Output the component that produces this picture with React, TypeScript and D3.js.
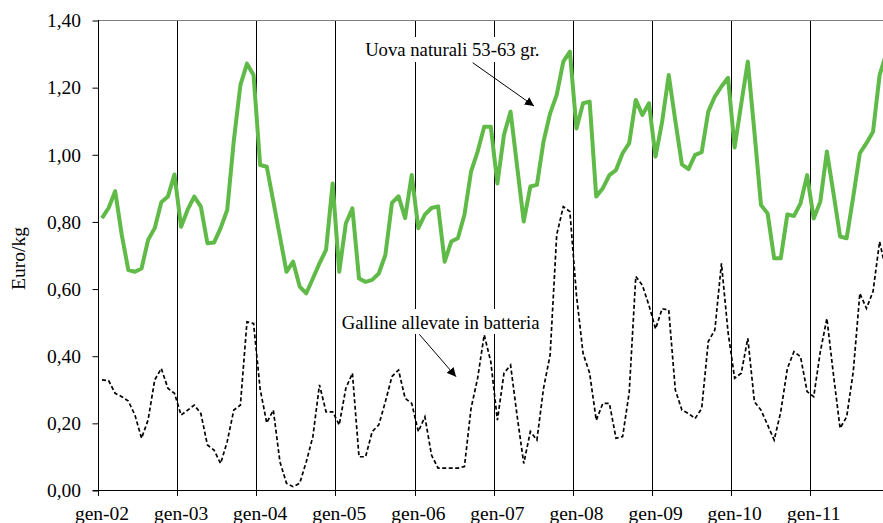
import React, { useEffect, useRef } from "react";
import * as d3 from "d3";

const years = ["02", "03", "04", "05", "06", "07", "08", "09", "10", "11"];
const monthNames = ["gen", "feb", "mar", "apr", "mag", "giu", "lug", "ago", "set", "ott", "nov", "dic"];
const categories = years.flatMap((yy) => monthNames.map((m) => `${m}-${yy}`));
const tickLabels = years.map((yy) => `gen-${yy}`);
const yTicks = [0, 0.2, 0.4, 0.6, 0.8, 1.0, 1.2, 1.4];

// Uova naturali 53-63 gr. (Euro/kg)
const uova = [
  0.81, 0.84, 0.89, 0.76, 0.655, 0.65, 0.66, 0.745, 0.78, 0.857, 0.874, 0.94,
  0.784, 0.835, 0.874, 0.844, 0.735, 0.737, 0.78, 0.834, 1.04, 1.206, 1.27, 1.236,
  0.968, 0.963, 0.86, 0.755, 0.65, 0.68, 0.606, 0.586, 0.63, 0.675, 0.715, 0.913,
  0.65, 0.794, 0.839, 0.63, 0.62, 0.626, 0.645, 0.7, 0.855, 0.875, 0.81, 0.938,
  0.78, 0.82, 0.84, 0.845, 0.68, 0.74, 0.75, 0.82, 0.948, 1.008, 1.082, 1.082,
  0.913, 1.058, 1.127, 0.963, 0.8, 0.904, 0.909, 1.038, 1.122, 1.177, 1.276, 1.306,
  1.077, 1.152, 1.157, 0.874, 0.899, 0.938, 0.953, 1.003, 1.033, 1.162, 1.117, 1.152,
  0.993, 1.097, 1.236, 1.1, 0.97, 0.956, 0.998, 1.006, 1.127, 1.172, 1.202, 1.228,
  1.02, 1.15, 1.276, 1.067, 0.849, 0.824, 0.69, 0.69, 0.821, 0.816, 0.854, 0.938,
  0.809, 0.859, 1.008, 0.884, 0.755, 0.75, 0.874, 1.003, 1.033, 1.067, 1.236, 1.3,
];

// Galline allevate in batteria (Euro/kg)
const galline = [
  0.328, 0.326, 0.288, 0.278, 0.265, 0.223, 0.154, 0.209, 0.328, 0.362, 0.303, 0.288,
  0.223, 0.238, 0.253, 0.228, 0.134, 0.119, 0.079, 0.144, 0.238, 0.253, 0.501, 0.496,
  0.3, 0.2, 0.238, 0.084, 0.02, 0.01, 0.02, 0.084, 0.159, 0.313, 0.233, 0.233,
  0.194, 0.303, 0.348, 0.099, 0.099, 0.174, 0.194, 0.263, 0.338, 0.357, 0.273, 0.258,
  0.174, 0.218, 0.104, 0.065, 0.065, 0.065, 0.065, 0.07, 0.243, 0.333, 0.462, 0.382,
  0.208, 0.348, 0.372, 0.22, 0.079, 0.174, 0.149, 0.303, 0.402, 0.76, 0.844, 0.829,
  0.58, 0.407, 0.348, 0.208, 0.258, 0.258, 0.154, 0.159, 0.29, 0.636, 0.61, 0.55,
  0.48, 0.54, 0.536, 0.298, 0.238, 0.228, 0.213, 0.243, 0.442, 0.477, 0.675, 0.47,
  0.333, 0.348, 0.452, 0.263, 0.238, 0.194, 0.149, 0.233, 0.362, 0.412, 0.397, 0.293,
  0.278, 0.412, 0.511, 0.343, 0.184, 0.218, 0.352, 0.586, 0.541, 0.591, 0.74, 0.65,
];

const W = 883;
const H = 523;
const LEFT = 98.7;
const RIGHT = 889.5;
const TOP = 20;
const BOTTOM = 490;
const FONT = "Liberation Serif, DejaVu Serif, serif";
const GREEN = "#5fba47";

const crisp = (v: number) => Math.floor(v) + 0.5;

export default function App() {
  const yAxisRef = useRef<SVGGElement>(null);
  const xAxisRef = useRef<SVGGElement>(null);

  const x = d3.scaleBand<string>().domain(categories).range([LEFT, RIGHT]).padding(0);
  const y = d3.scaleLinear().domain([0, 1.4]).range([BOTTOM, TOP]);
  const cx = (i: number) => (x(categories[i]) as number) + x.bandwidth() / 2;
  const line = d3
    .line<number>()
    .x((_, i) => cx(i))
    .y((d) => y(d));

  useEffect(() => {
    const fmt = (v: d3.NumberValue) => d3.format(".2f")(v as number).replace(".", ",");
    const gy = d3.select(yAxisRef.current as SVGGElement);
    gy.call(
      d3.axisLeft(y).tickValues(yTicks).tickSize(6).tickSizeOuter(0).tickPadding(11.5).tickFormat(fmt)
    );
    gy.attr("font-family", FONT).attr("font-size", 19.5);
    gy.select(".domain").remove();
    gy.selectAll("line").attr("stroke", "#000");
    gy.selectAll("text")
      .style("font-family", FONT)
      .style("font-size", "19.5px")
      .attr("fill", "#000");

    const gx = d3.select(xAxisRef.current as SVGGElement);
    gx.call(d3.axisBottom(x).tickValues(tickLabels).tickSize(0).tickSizeOuter(0));
    gx.attr("font-family", FONT).attr("font-size", 19.5);
    gx.select(".domain").remove();
    gx.selectAll("text")
      .style("font-family", FONT)
      .style("font-size", "19.5px")
      .attr("fill", "#000")
      .attr("y", 29.5)
      .attr("dy", 0);
  }, []);

  const gridIdx = categories.map((_, i) => i).filter((i) => i % 12 === 0);
  const textStyle = { fontFamily: FONT };

  return (
    <svg
      width={W}
      height={H}
      style={{ position: "absolute", left: 0, top: 0, background: "#fff", fontFamily: FONT }}
    >
      <rect x={0} y={0} width={W} height={H} fill="#fff" />
      {/* vertical gridlines */}
      {gridIdx
        .filter((i) => i > 0)
        .map((i) => (
          <line
            key={"g" + i}
            x1={crisp(x(categories[i]) as number)}
            x2={crisp(x(categories[i]) as number)}
            y1={TOP}
            y2={BOTTOM}
            stroke="#000"
            strokeWidth={1}
          />
        ))}
      {/* tick marks below x axis at boundaries */}
      {gridIdx.map((i) => (
        <line
          key={"t" + i}
          x1={crisp(x(categories[i]) as number)}
          x2={crisp(x(categories[i]) as number)}
          y1={BOTTOM}
          y2={BOTTOM + 6}
          stroke="#000"
          strokeWidth={1}
        />
      ))}
      {/* frame */}
      <line x1={LEFT} x2={RIGHT} y1={crisp(TOP)} y2={crisp(TOP)} stroke="#7f7f7f" strokeWidth={1} />
      <line x1={crisp(LEFT)} x2={crisp(LEFT)} y1={TOP} y2={BOTTOM} stroke="#000" strokeWidth={1} />
      <line x1={LEFT - 6} x2={RIGHT} y1={crisp(BOTTOM)} y2={crisp(BOTTOM)} stroke="#000" strokeWidth={1} />

      <g ref={yAxisRef} transform={`translate(${crisp(LEFT)},0.5)`} />
      <g ref={xAxisRef} transform={`translate(0,${BOTTOM})`} />

      {/* series */}
      <path
        d={line(galline) || ""}
        fill="none"
        stroke="#000"
        strokeWidth={1.7}
        strokeDasharray="4 2.5"
      />
      <path
        d={line(uova) || ""}
        fill="none"
        stroke={GREEN}
        strokeWidth={4}
        strokeLinejoin="round"
      />

      {/* y axis title */}
      <text
        transform="translate(24.5,258.5) rotate(-90)"
        textAnchor="middle"
        style={textStyle}
        fontSize={19.5}
        fill="#000"
      >
        Euro/kg
      </text>

      <defs>
        <marker
          id="arrow"
          viewBox="0 0 10 10"
          refX={10}
          refY={5}
          markerWidth={9}
          markerHeight={9}
          markerUnits="userSpaceOnUse"
          orient="auto"
        >
          <path d="M0,0 L10,5 L0,10 z" fill="#000" />
        </marker>
      </defs>

      {/* annotations */}
      <rect x={361} y={37} width={180} height={25} fill="#fff" />
      <text x={539.5} y={56} textAnchor="end" style={textStyle} fontSize={18.7} fill="#000">
        Uova naturali 53-63 gr.
      </text>
      <line x1={472.7} y1={62.7} x2={534} y2={106} stroke="#000" strokeWidth={1} markerEnd="url(#arrow)" />

      <rect x={339} y={309} width={202} height={25} fill="#fff" />
      <text x={539.5} y={328.5} textAnchor="end" style={textStyle} fontSize={18.7} fill="#000">
        Galline allevate in batteria
      </text>
      <line x1={419.3} y1={334.3} x2={456} y2={376.7} stroke="#000" strokeWidth={1} markerEnd="url(#arrow)" />
    </svg>
  );
}
